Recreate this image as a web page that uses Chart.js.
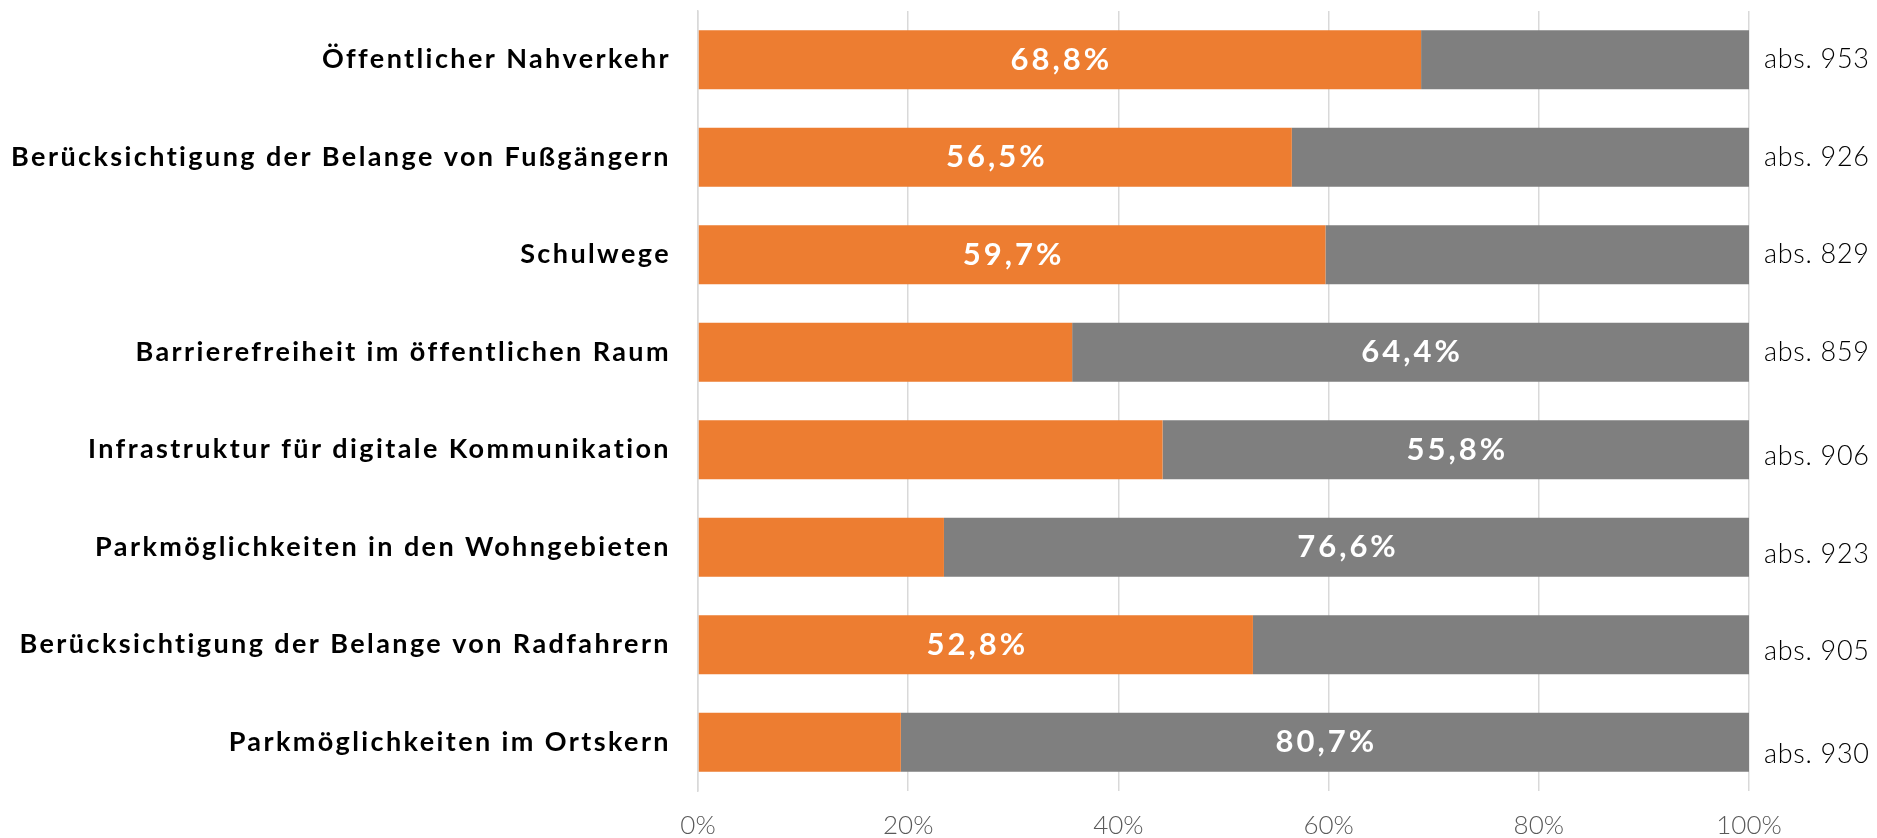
<!DOCTYPE html>
<html>
<head>
<meta charset="utf-8">
<script src="https://cdn.jsdelivr.net/npm/chart.js@4/dist/chart.umd.min.js"></script>
<style>
  html, body { margin: 0; padding: 0; background: #fff; }
  canvas { display: block; }
</style>
</head>
<body>
<canvas id="myChart" width="1877" height="838"></canvas>
<script>
  const categories = [
    "Öffentlicher Nahverkehr",
    "Berücksichtigung der Belange von Fußgängern",
    "Schulwege",
    "Barrierefreiheit im öffentlichen Raum",
    "Infrastruktur für digitale Kommunikation",
    "Parkmöglichkeiten in den Wohngebieten",
    "Berücksichtigung der Belange von Radfahrern",
    "Parkmöglichkeiten im Ortskern",
  ];
  const orangeValues = [68.8, 56.5, 59.7, 35.6, 44.2, 23.4, 52.8, 19.3];
  const greyValues = [31.2, 43.5, 40.3, 64.4, 55.8, 76.6, 47.2, 80.7];
  const absCounts = [953, 926, 829, 859, 906, 923, 905, 930];
  const xTicks = [0, 20, 40, 60, 80, 100];

  const FONT = "Lato, 'Open Sans', sans-serif";

  // Prozentwert im jeweils größeren Segment
  const valueLabels = {
    id: "valueLabels",
    afterDatasetsDraw(chart) {
      const ctx = chart.ctx;
      ctx.save();
      ctx.font = "bold 31px " + FONT;
      ctx.letterSpacing = "3px";
      ctx.fillStyle = "#fff";
      ctx.textAlign = "center";
      ctx.textBaseline = "middle";
      categories.forEach((c, i) => {
        const d = orangeValues[i] >= greyValues[i] ? 0 : 1;
        const bar = chart.getDatasetMeta(d).data[i];
        const v = chart.data.datasets[d].data[i];
        const x = (bar.base + bar.x) / 2 + 1.5;
        ctx.fillText(v.toFixed(1).replace(".", ",") + "%", x, bar.y);
      });
      ctx.restore();
    },
  };

  // "abs. n" rechts neben den Balken
  const absLabels = {
    id: "absLabels",
    afterDatasetsDraw(chart) {
      const ctx = chart.ctx;
      const yScale = chart.scales.y;
      ctx.save();
      ctx.font = "300 27px " + FONT;
      ctx.letterSpacing = "0.7px";
      ctx.fillStyle = "#000";
      ctx.textAlign = "left";
      ctx.textBaseline = "middle";
      absCounts.forEach((n, i) => {
        const y = yScale.getPixelForValue(i);
        const shift = i > 6 ? 12 : i > 3 ? 7 : 0;
        ctx.fillText("abs. " + n, chart.chartArea.right + 15, y + shift);
      });
      ctx.restore();
    },
  };

  new Chart(document.getElementById("myChart").getContext("2d"), {
    type: "bar",
    data: {
      labels: categories,
      datasets: [
        {
          data: orangeValues,
          backgroundColor: "#ED7D31",
          barPercentage: 0.605,
          categoryPercentage: 1,
        },
        {
          data: greyValues,
          backgroundColor: "#7F7F7F",
          barPercentage: 0.605,
          categoryPercentage: 1,
        },
      ],
    },
    options: {
      indexAxis: "y",
      responsive: false,
      animation: false,
      layout: { padding: { top: 11, right: 128, left: 0, bottom: 0 } },
      plugins: {
        legend: { display: false },
        tooltip: { enabled: false },
      },
      scales: {
        x: {
          stacked: true,
          min: 0,
          max: 100,
          afterBuildTicks: (axis) => {
            axis.ticks = xTicks.map((v) => ({ value: v }));
          },
          afterFit: (axis) => {
            axis.height = 47;
            axis.paddingLeft = 0;
            axis.paddingRight = 0;
          },
          grid: { color: "#D9D9D9", lineWidth: 1.5, drawTicks: false },
          border: { display: false },
          ticks: {
            padding: 19,
            color: "#595959",
            font: { family: FONT, size: 26, weight: "300" },
            callback: (v) => v + "%",
          },
        },
        y: {
          stacked: true,
          grid: { display: false, drawTicks: false },
          border: { color: "#D9D9D9", width: 1.5 },
          afterFit: (axis) => {
            axis.width = 698;
            axis.paddingTop = 0;
            axis.paddingBottom = 0;
            if (!axis._spaced) {
              const orig = axis.drawLabels;
              axis.drawLabels = function (area) {
                this.ctx.letterSpacing = "2.4px";
                orig.call(this, area);
                this.ctx.letterSpacing = "0px";
              };
              axis._spaced = true;
            }
          },
          ticks: {
            padding: 27,
            color: "#000",
            font: { family: FONT, size: 27, weight: "bold" },
          },
        },
      },
    },
    plugins: [valueLabels, absLabels],
  });
</script>
</body>
</html>
